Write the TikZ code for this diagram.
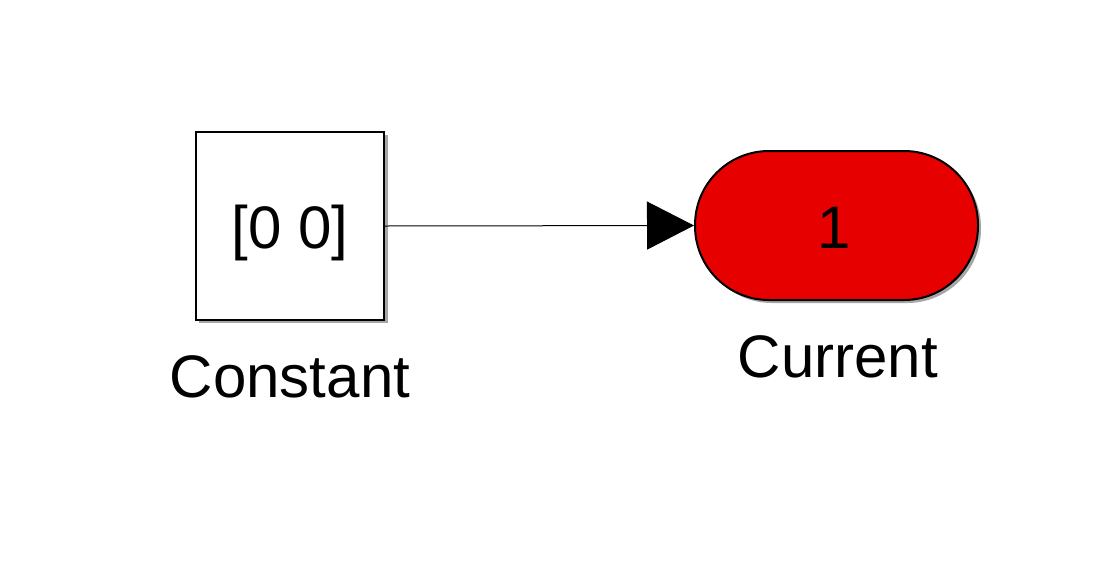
\documentclass[tikz,border=0pt]{standalone}
\usepackage{fontspec}
\setmainfont{Liberation Sans}
\usetikzlibrary{arrows.meta}
\definecolor{blkred}{HTML}{E60000}
\tikzset{
  lbl/.style={font=\fontsize{60}{72}\selectfont, anchor=base, inner sep=0pt},
  blockbox/.style={draw=black, line width=2pt, fill=white, minimum width=188pt, minimum height=188pt, inner sep=0pt},
  pill/.style={draw=black, line width=2pt, fill=blkred, rounded corners=74pt, minimum width=283pt, minimum height=149pt, inner sep=0pt},
  shad/.style={fill=black!35}
}
\begin{document}
\begin{tikzpicture}[x=1pt,y=-1pt]
\useasboundingbox[fill=white] (0,0) rectangle (1102,568);
% shadows
\fill[shad] (199,135) rectangle (388,323);
\fill[shad, rounded corners=74pt] (698,154) rectangle (981,303);
\node[blockbox] (const) at (290,226) {};
\node[pill] (cur) at (836.5,225.5) {};
\node[lbl] (ctext) at (290,248) {[0 0]};
\node[lbl] (ptext) at (834,248) {1};
\node[lbl] (clabel) at (290,397) {Constant};
\node[lbl] (plabel) at (838,377) {Current};
\draw[line width=1pt, -{Triangle[length=47pt, width=48pt]}] (const.east) -- (cur.west);
\end{tikzpicture}
\end{document}
